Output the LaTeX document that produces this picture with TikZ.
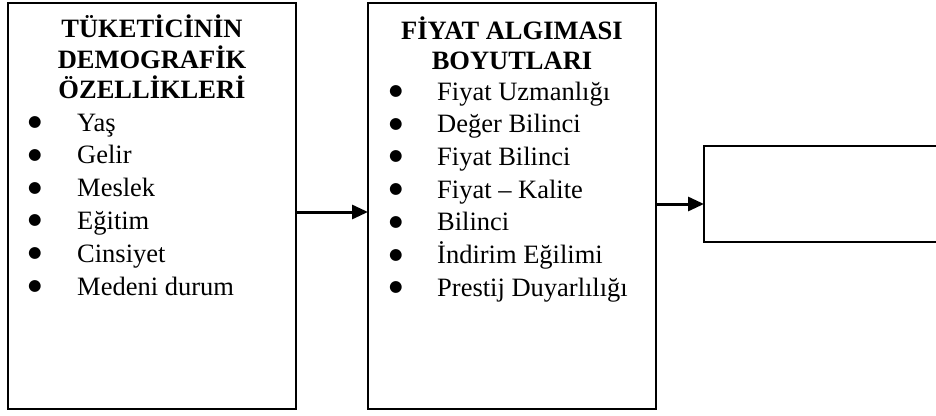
\documentclass[tikz,border=0pt]{standalone}
\usepackage{fontspec}
\setmainfont{Liberation Serif}
\newfontfamily\dotfont{DejaVu Sans}
\usetikzlibrary{arrows.meta}
% list bullet: a solid round dot
\newcommand{\listdot}{{\dotfont\fontsize{15.5}{16}\selectfont\raisebox{4.5pt}{●}}}
\begin{document}
\begin{tikzpicture}[x=1pt,y=-1pt,
  box/.style={draw, line width=1.4pt, inner sep=0pt, outer sep=0pt, anchor=north west},
  head/.style={font=\fontsize{26.5}{31}\selectfont\bfseries, anchor=base, inner sep=0pt},
  item/.style={font=\fontsize{26.5}{32}\selectfont, anchor=base west, inner sep=0pt},
  link/.style={line width=3pt, -{Triangle[length=16pt,width=14pt]}}]
  \useasboundingbox (0,0) rectangle (936,415);
  \clip (0,0) rectangle (936,415);
  \fill[white] (0,0) rectangle (936,415);

  % the three boxes
  \node[box, minimum width=288pt, minimum height=406pt] (demo)  at (8,3) {};
  \node[box, minimum width=288pt, minimum height=406pt] (fiyat) at (368,3) {};
  \node[box, minimum width=260pt, minimum height=96pt]  (sonuc) at (704,146) {};

  % headings
  \node[head] (dh1) at (152,37) {TÜKETİCİNİN};
  \node[head] (dh2) at (152,68) {DEMOGRAFİK};
  \node[head] (dh3) at (152,98) {ÖZELLİKLERİ};
  \node[head] (fh1) at (512,39) {FİYAT ALGIMASI};
  \node[head] (fh2) at (512,69) {BOYUTLARI};

  % bulleted lists
  \foreach \t [count=\i from 0] in {Yaş, Gelir, Meslek, Eğitim, Cinsiyet, Medeni durum}
    \node[item] (d\i) at (28,131+32.8*\i) {\makebox[49pt][l]{\listdot}\t};
  \foreach \t [count=\i from 0] in {Fiyat Uzmanlığı, Değer Bilinci, Fiyat Bilinci,
      Fiyat – Kalite, Bilinci, İndirim Eğilimi, Prestij Duyarlılığı}
    \node[item] (f\i) at (389,100+32.7*\i) {\makebox[48pt][l]{\listdot}\t};

  % connectors
  \draw[link] ([yshift=-6pt]demo.east) -- ([yshift=-6pt]fiyat.west);
  \draw[link] ([yshift=-10pt]sonuc.west -| fiyat.east) -- ([yshift=-10pt]sonuc.west);
\end{tikzpicture}
\end{document}
